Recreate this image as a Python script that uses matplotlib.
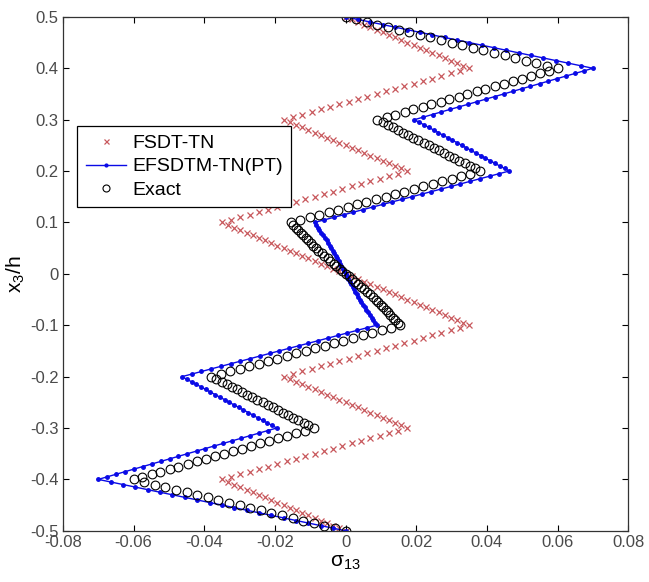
import matplotlib
matplotlib.use('Agg')
import matplotlib.pyplot as plt
import numpy as np

plt.rcParams['font.family'] = ['Liberation Sans', 'DejaVu Sans']
plt.rcParams['mathtext.fontset'] = 'custom'
plt.rcParams['mathtext.rm'] = 'Liberation Sans'
plt.rcParams['mathtext.default'] = 'regular'

# x3/h of the sample points: 0.5 down to -0.5, step 0.005
z = np.linspace(0.5, -0.5, 201)

# sigma_13 values, top half (z = 0.5 ... 0) and bottom half (z = -0.005 ... -0.5)
fsdt_top = [0.0000, 0.0018, 0.0035, 0.0053, 0.0070, 0.0088, 0.0105, 0.0123, 0.0140, 0.0158, 0.0175,
            0.0193, 0.0210, 0.0228, 0.0245, 0.0263, 0.0280, 0.0298, 0.0315, 0.0333, 0.0350,
            0.0324, 0.0298, 0.0271, 0.0245, 0.0219, 0.0193, 0.0166, 0.0140, 0.0114, 0.0088,
            0.0061, 0.0035, 0.0009, -0.0018, -0.0044, -0.0070, -0.0096, -0.0123, -0.0149, -0.0175,
            -0.0158, -0.0140, -0.0123, -0.0105, -0.0088, -0.0070, -0.0053, -0.0035, -0.0018, 0.0000,
            0.0018, 0.0035, 0.0053, 0.0070, 0.0088, 0.0105, 0.0123, 0.0140, 0.0158, 0.0175,
            0.0149, 0.0123, 0.0096, 0.0070, 0.0044, 0.0018, -0.0009, -0.0035, -0.0061, -0.0088,
            -0.0114, -0.0140, -0.0166, -0.0193, -0.0219, -0.0245, -0.0271, -0.0298, -0.0324, -0.0350,
            -0.0333, -0.0315, -0.0298, -0.0280, -0.0263, -0.0245, -0.0228, -0.0210, -0.0193, -0.0175,
            -0.0158, -0.0140, -0.0123, -0.0105, -0.0088, -0.0070, -0.0053, -0.0035, -0.0018, 0.0000]
fsdt_bot = [0.0018, 0.0035, 0.0053, 0.0070, 0.0088, 0.0105, 0.0123, 0.0140, 0.0158, 0.0175,
            0.0193, 0.0210, 0.0228, 0.0245, 0.0263, 0.0280, 0.0298, 0.0315, 0.0333, 0.0350,
            0.0324, 0.0298, 0.0271, 0.0245, 0.0219, 0.0193, 0.0166, 0.0140, 0.0114, 0.0088,
            0.0061, 0.0035, 0.0009, -0.0018, -0.0044, -0.0070, -0.0096, -0.0123, -0.0149, -0.0175,
            -0.0158, -0.0140, -0.0123, -0.0105, -0.0088, -0.0070, -0.0053, -0.0035, -0.0018, 0.0000,
            0.0018, 0.0035, 0.0053, 0.0070, 0.0088, 0.0105, 0.0123, 0.0140, 0.0158, 0.0175,
            0.0149, 0.0123, 0.0096, 0.0070, 0.0044, 0.0018, -0.0009, -0.0035, -0.0061, -0.0088,
            -0.0114, -0.0140, -0.0166, -0.0193, -0.0219, -0.0245, -0.0271, -0.0298, -0.0324, -0.0350,
            -0.0333, -0.0315, -0.0298, -0.0280, -0.0263, -0.0245, -0.0228, -0.0210, -0.0193, -0.0175,
            -0.0158, -0.0140, -0.0123, -0.0105, -0.0088, -0.0070, -0.0053, -0.0035, -0.0018, 0.0000]

efsdtm_top = [0.0000, 0.0035, 0.0070, 0.0105, 0.0140, 0.0175, 0.0210, 0.0245, 0.0280, 0.0315, 0.0350,
              0.0385, 0.0420, 0.0455, 0.0490, 0.0525, 0.0560, 0.0595, 0.0630, 0.0665, 0.0700,
              0.0675, 0.0650, 0.0624, 0.0599, 0.0574, 0.0549, 0.0523, 0.0498, 0.0473, 0.0448,
              0.0422, 0.0397, 0.0372, 0.0347, 0.0321, 0.0296, 0.0271, 0.0246, 0.0220, 0.0195,
              0.0208, 0.0222, 0.0235, 0.0249, 0.0262, 0.0275, 0.0289, 0.0302, 0.0316, 0.0329,
              0.0342, 0.0356, 0.0369, 0.0383, 0.0396, 0.0409, 0.0423, 0.0436, 0.0450, 0.0463,
              0.0435, 0.0408, 0.0380, 0.0353, 0.0325, 0.0298, 0.0270, 0.0243, 0.0215, 0.0188,
              0.0160, 0.0132, 0.0105, 0.0077, 0.0050, 0.0022, -0.0005, -0.0033, -0.0060, -0.0088,
              -0.0083, -0.0078, -0.0074, -0.0069, -0.0064, -0.0059, -0.0054, -0.0050, -0.0045, -0.0040,
              -0.0036, -0.0032, -0.0028, -0.0024, -0.0020, -0.0016, -0.0012, -0.0008, -0.0004, 0.0000]
efsdtm_bot = [0.0004, 0.0008, 0.0012, 0.0016, 0.0020, 0.0024, 0.0028, 0.0032, 0.0036, 0.0040,
              0.0045, 0.0050, 0.0054, 0.0059, 0.0064, 0.0069, 0.0074, 0.0078, 0.0083, 0.0088,
              0.0060, 0.0033, 0.0005, -0.0022, -0.0050, -0.0077, -0.0105, -0.0132, -0.0160, -0.0188,
              -0.0215, -0.0243, -0.0270, -0.0298, -0.0325, -0.0353, -0.0380, -0.0408, -0.0435, -0.0463,
              -0.0450, -0.0436, -0.0423, -0.0409, -0.0396, -0.0383, -0.0369, -0.0356, -0.0342, -0.0329,
              -0.0316, -0.0302, -0.0289, -0.0275, -0.0262, -0.0249, -0.0235, -0.0222, -0.0208, -0.0195,
              -0.0220, -0.0246, -0.0271, -0.0296, -0.0321, -0.0347, -0.0372, -0.0397, -0.0422, -0.0448,
              -0.0473, -0.0498, -0.0523, -0.0549, -0.0574, -0.0599, -0.0624, -0.0650, -0.0675, -0.0700,
              -0.0665, -0.0630, -0.0595, -0.0560, -0.0525, -0.0490, -0.0455, -0.0420, -0.0385, -0.0350,
              -0.0315, -0.0280, -0.0245, -0.0210, -0.0175, -0.0140, -0.0105, -0.0070, -0.0035, 0.0000]

exact_top = [0.0000, 0.0030, 0.0060, 0.0090, 0.0120, 0.0150, 0.0180, 0.0210, 0.0240, 0.0270, 0.0300,
             0.0330, 0.0360, 0.0390, 0.0420, 0.0450, 0.0480, 0.0510, 0.0540, 0.0570, 0.0600,
             0.0575, 0.0549, 0.0524, 0.0498, 0.0473, 0.0447, 0.0422, 0.0396, 0.0371, 0.0345,
             0.0320, 0.0294, 0.0269, 0.0243, 0.0218, 0.0192, 0.0167, 0.0141, 0.0116, 0.0090,
             0.0105, 0.0119, 0.0134, 0.0148, 0.0163, 0.0177, 0.0192, 0.0206, 0.0221, 0.0235,
             0.0250, 0.0264, 0.0279, 0.0293, 0.0308, 0.0322, 0.0337, 0.0351, 0.0366, 0.0380,
             0.0353, 0.0327, 0.0300, 0.0273, 0.0246, 0.0220, 0.0193, 0.0166, 0.0139, 0.0113,
             0.0086, 0.0059, 0.0032, 0.0006, -0.0021, -0.0048, -0.0075, -0.0102, -0.0128, -0.0155,
             -0.0148, -0.0141, -0.0134, -0.0127, -0.0120, -0.0113, -0.0106, -0.0099, -0.0092, -0.0085,
             -0.0077, -0.0068, -0.0060, -0.0051, -0.0043, -0.0034, -0.0026, -0.0017, -0.0009, 0.0000]
exact_bot = [0.0009, 0.0017, 0.0026, 0.0034, 0.0043, 0.0051, 0.0060, 0.0068, 0.0077, 0.0085,
             0.0092, 0.0099, 0.0106, 0.0113, 0.0120, 0.0127, 0.0134, 0.0141, 0.0148, 0.0155,
             0.0128, 0.0102, 0.0075, 0.0048, 0.0021, -0.0006, -0.0032, -0.0059, -0.0086, -0.0113,
             -0.0139, -0.0166, -0.0193, -0.0220, -0.0246, -0.0273, -0.0300, -0.0327, -0.0353, -0.0380,
             -0.0366, -0.0351, -0.0337, -0.0322, -0.0308, -0.0293, -0.0279, -0.0264, -0.0250, -0.0235,
             -0.0221, -0.0206, -0.0192, -0.0177, -0.0163, -0.0148, -0.0134, -0.0119, -0.0105, -0.0090,
             -0.0116, -0.0141, -0.0167, -0.0192, -0.0218, -0.0243, -0.0269, -0.0294, -0.0320, -0.0345,
             -0.0371, -0.0396, -0.0422, -0.0447, -0.0473, -0.0498, -0.0524, -0.0549, -0.0575, -0.0600,
             -0.0570, -0.0540, -0.0510, -0.0480, -0.0450, -0.0420, -0.0390, -0.0360, -0.0330, -0.0300,
             -0.0270, -0.0240, -0.0210, -0.0180, -0.0150, -0.0120, -0.0090, -0.0060, -0.0030, 0.0000]

xticks = [-0.08, -0.06, -0.04, -0.02, 0, 0.02, 0.04, 0.06, 0.08]
xticklabels = ['-0.08', '-0.06', '-0.04', '-0.02', '0', '0.02', '0.04', '0.06', '0.08']
yticks = [-0.5, -0.4, -0.3, -0.2, -0.1, 0, 0.1, 0.2, 0.3, 0.4, 0.5]
yticklabels = ['-0.5', '-0.4', '-0.3', '-0.2', '-0.1', '0', '0.1', '0.2', '0.3', '0.4', '0.5']

fsdt = np.array(fsdt_top + fsdt_bot)
efsdtm = np.array(efsdtm_top + efsdtm_bot)
exact = np.array(exact_top + exact_bot)

fig = plt.figure(figsize=(6.49, 5.82), dpi=100)
ax = fig.add_axes([0.097, 0.088, 0.871, 0.883])

ax.plot(fsdt, z, 'x', color='#c8585c', markersize=4.5, markeredgewidth=0.9, label='FSDT-TN')
ax.plot(efsdtm, z, '.-', color='#0a0ae6', linewidth=1.0, markersize=5, label='EFSDTM-TN(PT)')
ax.plot(exact, z, 'o', color='black', markerfacecolor='none', markersize=6.3,
        markeredgewidth=0.8, label='Exact')

ax.set_xlim(-0.08, 0.08)
ax.set_ylim(-0.5, 0.5)
ax.set_xticks(xticks)
ax.set_xticklabels(xticklabels)
ax.set_yticks(yticks)
ax.set_yticklabels(yticklabels)
ax.tick_params(direction='in', top=True, right=True, length=4.5, width=0.8,
               labelsize=12, labelcolor='#4a4a4a', pad=3)
for s in ax.spines.values():
    s.set_color('#333333')
    s.set_linewidth(0.9)

ax.set_xlabel(r'$\sigma_{13}$', fontsize=15, labelpad=2)
ax.set_ylabel(r'$x_3$/h', fontsize=15, labelpad=2)

leg = ax.legend(loc='upper left', bbox_to_anchor=(0.0255, 0.788), borderaxespad=0,
                fancybox=False, framealpha=1, edgecolor='black', fontsize=14,
                handlelength=2.1, handletextpad=0.3, labelspacing=0.32, borderpad=0.42,
                markerscale=0.8)
leg.get_frame().set_linewidth(0.9)

plt.savefig('out.png', dpi=100)
